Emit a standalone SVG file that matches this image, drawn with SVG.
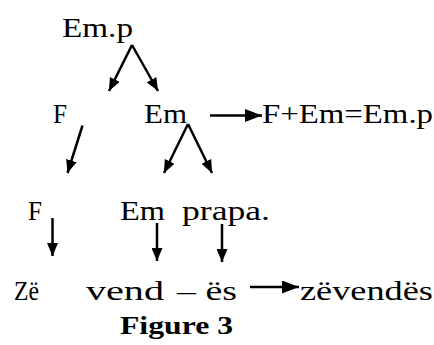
<svg xmlns="http://www.w3.org/2000/svg" width="434" height="345" viewBox="0 0 434 345">
<style>
text{font-family:'Liberation Serif',serif;fill:#000}
.t{font-size:27px}
.b{font-size:25px;font-weight:bold}
.c{stroke:#000;stroke-width:2.5;fill:none}
</style>
<defs>
<marker id="ah" viewBox="0 0 13 11" refX="13" refY="5.5" markerWidth="13" markerHeight="11" markerUnits="userSpaceOnUse" orient="auto"><path d="M0,0 L13,5.5 L0,11 Z" fill="#000"/></marker>
<marker id="ahl" viewBox="0 0 17 13" refX="17" refY="6.5" markerWidth="17" markerHeight="13" markerUnits="userSpaceOnUse" orient="auto"><path d="M0,0 L17,6.5 L0,13 Z" fill="#000"/></marker>
</defs>
<rect width="434" height="345" fill="#fff"/>
<g id="n-emp"><text class="t" x="62" y="37" textLength="71" lengthAdjust="spacingAndGlyphs">Em.p</text></g>
<g id="n-f1"><text class="t" x="53" y="123" textLength="14" lengthAdjust="spacingAndGlyphs">F</text></g>
<g id="n-em1"><text class="t" x="144" y="123" textLength="43" lengthAdjust="spacingAndGlyphs">Em</text></g>
<g id="n-sum"><text class="t" x="262" y="123" textLength="171" lengthAdjust="spacingAndGlyphs">F+Em=Em.p</text></g>
<g id="n-f2"><text class="t" x="28" y="220" textLength="14" lengthAdjust="spacingAndGlyphs">F</text></g>
<g id="n-em2"><text class="t" x="120" y="220" textLength="45" lengthAdjust="spacingAndGlyphs">Em</text></g>
<g id="n-prapa"><text class="t" x="182" y="220" textLength="88" lengthAdjust="spacingAndGlyphs">prapa.</text></g>
<g id="n-ze"><text class="t" x="14" y="300" textLength="25" lengthAdjust="spacingAndGlyphs">Zë</text></g>
<g id="n-vend"><text class="t" x="86" y="300" textLength="78" lengthAdjust="spacingAndGlyphs">vend</text></g>
<g id="n-es"><text class="t" x="177" y="300" textLength="60" lengthAdjust="spacingAndGlyphs">– ës</text></g>
<g id="n-zevendes"><text class="t" x="300" y="300" textLength="133" lengthAdjust="spacingAndGlyphs">zëvendës</text></g>
<g id="caption"><text class="b" x="120" y="334" textLength="113" lengthAdjust="spacingAndGlyphs">Figure 3</text></g>
<g id="connectors">
<line class="c" x1="132" y1="45" x2="109" y2="91" marker-end="url(#ah)"/>
<line class="c" x1="132" y1="45" x2="158" y2="91" marker-end="url(#ah)"/>
<line class="c" x1="82.5" y1="125.5" x2="67.5" y2="173" marker-end="url(#ah)"/>
<line class="c" x1="188" y1="124" x2="164" y2="173" marker-end="url(#ah)"/>
<line class="c" x1="188" y1="124" x2="212" y2="173" marker-end="url(#ah)"/>
<line class="c" x1="210" y1="115.5" x2="262" y2="115.5" marker-end="url(#ahl)"/>
<line class="c" x1="52.5" y1="218" x2="52.5" y2="256" marker-end="url(#ah)"/>
<line class="c" x1="157" y1="223" x2="157" y2="261" marker-end="url(#ah)"/>
<line class="c" x1="222" y1="224" x2="222" y2="262" marker-end="url(#ah)"/>
<line class="c" x1="250" y1="287" x2="299" y2="287" marker-end="url(#ahl)"/>
</g>
</svg>
